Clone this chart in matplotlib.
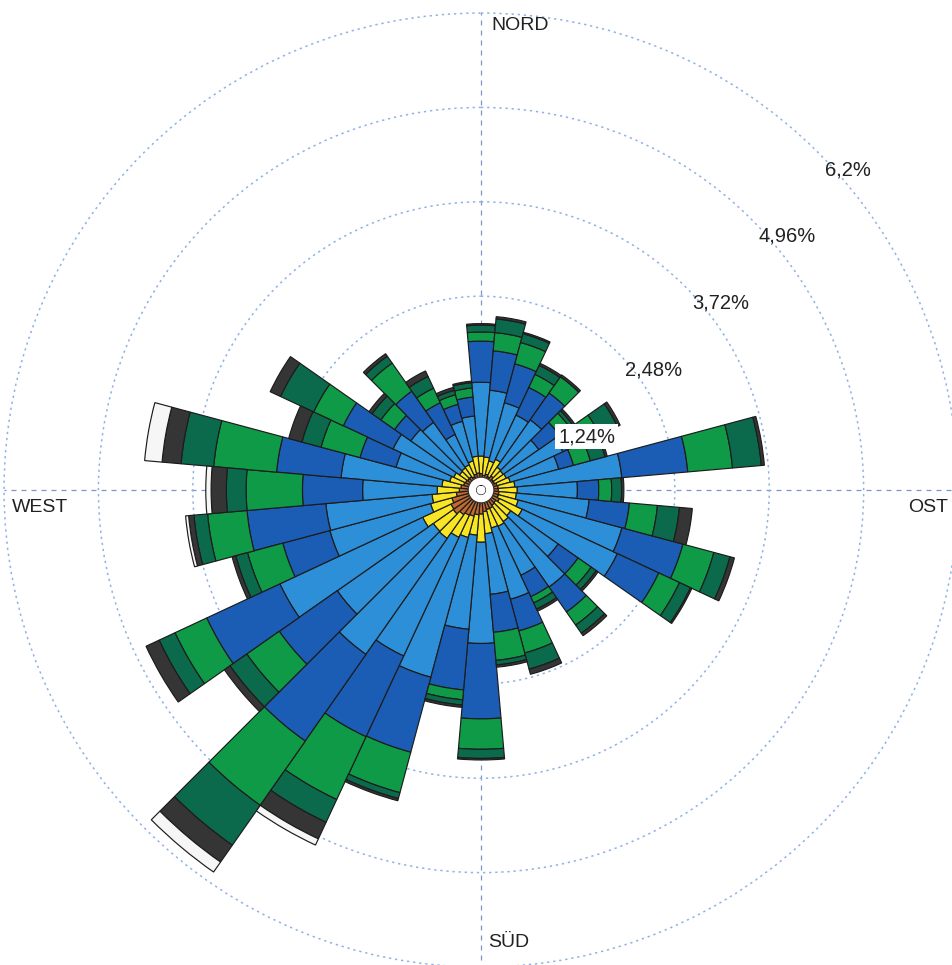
import numpy as np
import matplotlib.pyplot as plt
from matplotlib.transforms import offset_copy

plt.rcParams['font.family'] = ['Liberation Sans', 'DejaVu Sans']

# Windrichtung (Grad, im Uhrzeigersinn ab Nord)
directions = np.arange(0, 360, 10)

# Summenhaeufigkeit in % je Richtung, von innen nach aussen
cum_brown = [0.15, 0.13, 0.15, 0.13, 0.16, 0.13, 0.13, 0.15, 0.16, 0.16, 0.17, 0.17,
             0.20, 0.17, 0.18, 0.20, 0.20, 0.22, 0.25, 0.26, 0.29, 0.30, 0.33, 0.38,
             0.37, 0.33, 0.26, 0.22, 0.20, 0.17, 0.16, 0.15, 0.15, 0.13, 0.15, 0.16]
cum_yellow = [0.38, 0.37, 0.33, 0.38, 0.30, 0.29, 0.30, 0.33, 0.38, 0.41, 0.40, 0.44,
              0.53, 0.41, 0.44, 0.46, 0.45, 0.51, 0.62, 0.53, 0.58, 0.62, 0.71, 0.70,
              0.78, 0.62, 0.58, 0.51, 0.45, 0.36, 0.33, 0.28, 0.29, 0.30, 0.33, 0.38]
cum_lightblue = [1.35, 1.25, 1.12, 1.02, 1.06, 0.86, 1.12, 0.99, 1.79, 1.20, 1.36, 1.85,
                 1.91, 1.17, 1.49, 1.17, 1.42, 1.31, 1.95, 1.77, 2.48, 2.34, 2.57, 2.24,
                 2.85, 1.99, 1.98, 1.49, 1.78, 1.09, 1.21, 1.06, 1.02, 0.74, 0.87, 0.91]
cum_blue = [1.89, 1.77, 1.65, 1.42, 1.49, 1.19, 1.39, 1.19, 2.66, 1.48, 1.89, 2.68,
            2.51, 1.49, 1.89, 1.48, 1.85, 1.81, 2.94, 2.57, 3.50, 3.51, 3.96, 3.17,
            3.91, 2.63, 3.02, 2.28, 2.63, 1.58, 1.93, 1.32, 1.52, 1.20, 1.10, 1.16]
cum_green = [2.01, 2.01, 1.94, 1.61, 1.75, 1.36, 1.65, 1.42, 3.25, 1.65, 2.26, 3.10,
             2.81, 1.70, 2.10, 1.57, 2.15, 2.18, 3.34, 2.70, 4.05, 4.42, 4.99, 3.69,
             4.37, 3.11, 3.54, 3.02, 3.46, 2.11, 2.36, 1.54, 1.97, 1.41, 1.23, 1.28]
cum_darkgreen = [2.10, 2.19, 2.06, 1.74, 1.75, 1.41, 1.91, 1.62, 3.63, 1.78, 2.55, 3.32,
                 2.97, 1.78, 2.23, 1.66, 2.37, 2.24, 3.46, 2.77, 4.13, 4.75, 5.63, 3.96,
                 4.60, 3.27, 3.72, 3.28, 3.89, 2.37, 2.84, 1.68, 2.08, 1.58, 1.29, 1.35]
cum_gray = [2.12, 2.22, 2.08, 1.77, 1.78, 1.44, 1.95, 1.65, 3.67, 1.81, 2.72, 3.38,
            2.99, 1.81, 2.27, 1.69, 2.44, 2.27, 3.48, 2.80, 4.16, 4.99, 5.90, 4.05,
            4.79, 3.32, 3.79, 3.48, 4.14, 2.55, 2.99, 1.73, 2.12, 1.66, 1.33, 1.37]
cum_white = [2.12, 2.22, 2.08, 1.77, 1.78, 1.44, 1.95, 1.65, 3.67, 1.81, 2.72, 3.38,
             2.99, 1.81, 2.27, 1.69, 2.44, 2.27, 3.48, 2.80, 4.16, 5.08, 6.06, 4.05,
             4.79, 3.32, 3.83, 3.55, 4.37, 2.55, 2.99, 1.73, 2.12, 1.66, 1.33, 1.37]

rings = [1.24, 2.48, 3.72, 4.96, 6.2]
ring_labels = ['1,24%', '2,48%', '3,72%', '4,96%', '6,2%']
compass = ['NORD', 'OST', 'SÜD', 'WEST']

layers = [cum_brown, cum_yellow, cum_lightblue, cum_blue,
          cum_green, cum_darkgreen, cum_gray, cum_white]
colors = ['#c06a30', '#f8e624', '#2c8fd8', '#1b5db4',
          '#0f9a48', '#0b6a4b', '#353535', '#f6f6f6']

fig = plt.figure(figsize=(9.52, 9.65), dpi=100)
ax = fig.add_axes([0.00425, -0.0021, 1.0021, 0.9886], projection='polar')
ax.set_theta_zero_location('N')
ax.set_theta_direction(-1)
ax.set_ylim(0, 6.2)
ax.set_rorigin(-0.066)

theta = np.radians(directions)
width = np.radians(10)
bottom = np.zeros(len(directions))
for cum, col in zip(layers, colors):
    cum = np.array(cum)
    h = cum - bottom
    m = h > 0
    ax.bar(theta[m], h[m], width=width, bottom=bottom[m], color=col,
           edgecolor='#1c1c1c', linewidth=0.85, zorder=3)
    bottom = np.maximum(bottom, cum)

# Gitter
ax.set_yticks(rings)
ax.set_yticklabels([])
ax.set_xticks(np.radians([0, 90, 180, 270]))
ax.set_xticklabels([])
ax.tick_params(length=0)
ax.xaxis.grid(True, color='#7d97c6', linestyle=(0, (4, 4)), linewidth=0.9)
ax.yaxis.grid(True, color='#8fb2e6', linestyle=(0, (1.5, 2.5)), linewidth=1.1)
for gl in ax.yaxis.get_gridlines():
    gl.set_clip_on(False)
for sp in ax.spines.values():
    sp.set_visible(False)
ax.set_axisbelow(True)

# Loch in der Mitte
ax.add_patch(plt.Circle((0.5, 0.5), 0.0135, transform=ax.transAxes,
                        facecolor='white', edgecolor='#333333', linewidth=0.9, zorder=6))

# Ringbeschriftungen
tr = offset_copy(ax.transData, fig=fig, x=7, y=-17, units='dots')
for i, (r, lab) in enumerate(zip(rings, ring_labels)):
    bbox = dict(boxstyle='square,pad=0.15', facecolor='white', edgecolor='none') if i == 0 else None
    ax.text(np.radians(45), r, lab, transform=tr, ha='left', va='center',
            fontsize=14.5, color='#222222', bbox=bbox, zorder=7, clip_on=False)

# Himmelsrichtungen
ax.text(0, 6.03, compass[0], ha='left', va='center', fontsize=14, color='#222222',
        transform=offset_copy(ax.transData, fig=fig, x=10, y=0, units='dots'), clip_on=False)
ax.text(np.radians(90), 5.55, compass[1], ha='left', va='center', fontsize=14, color='#222222',
        transform=offset_copy(ax.transData, fig=fig, x=0, y=-17, units='dots'), clip_on=False)
ax.text(np.radians(180), 5.88, compass[2], ha='left', va='center', fontsize=14, color='#222222',
        transform=offset_copy(ax.transData, fig=fig, x=7, y=0, units='dots'), clip_on=False)
ax.text(np.radians(270), 6.1, compass[3], ha='left', va='center', fontsize=14, color='#222222',
        transform=offset_copy(ax.transData, fig=fig, x=0, y=-17, units='dots'), clip_on=False)

fig.savefig('out.png', dpi=100, facecolor='white')
